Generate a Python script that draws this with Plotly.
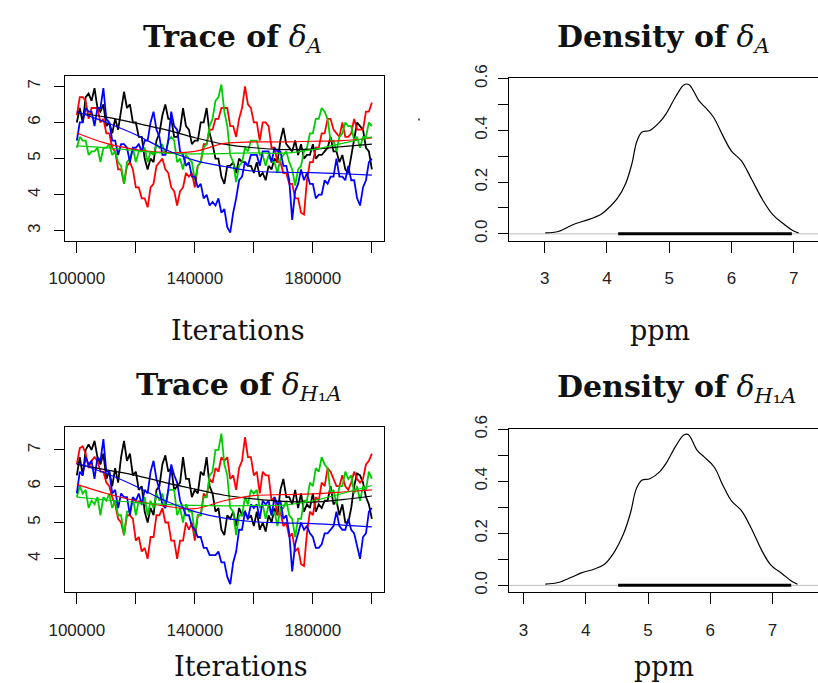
import plotly.graph_objects as go

# ---------------- data ----------------
iter_start = 100000
iter_step = 1000

# Trace of delta_A (top-left), one value per 1000 iterations
trA_black = [6.0, 6.4, 6.0, 6.7, 6.8, 6.6, 6.95, 6.4, 6.3, 6.5,
             5.9, 6.0, 5.7, 6.1, 5.8, 6.4, 6.85, 6.4, 6.5, 6.0,
             6.0, 5.6, 5.6, 5.0, 4.7, 5.0, 4.9, 5.5, 5.7, 6.2,
             6.5, 6.1, 6.1, 5.6, 5.6, 5.8, 6.4, 5.9, 5.8, 5.4,
             5.5, 5.5, 6.0, 6.0, 6.4, 5.7, 5.4, 5.0, 5.0, 4.5,
             4.3, 4.8, 4.8, 4.9, 4.6, 5.0, 4.9, 4.9, 4.8, 4.8,
             4.6, 4.9, 4.5, 4.6, 4.4, 4.8, 4.7, 5.0, 4.9, 5.5,
             5.85, 5.4, 5.3, 5.2, 5.5, 5.1, 5.4, 5.0, 5.1, 5.1,
             5.4, 5.0, 5.1, 5.1, 5.2, 5.3, 5.6, 5.2, 5.2, 4.9,
             5.1, 4.7, 4.6, 5.1, 5.6, 6.0, 5.9, 5.8, 5.3, 5.2,
             4.7]
trA_red = [6.2, 6.7, 6.7, 6.6, 6.1, 6.4, 6.4, 6.4, 6.0, 6.1,
           5.7, 5.7, 5.3, 5.2, 4.7, 4.7, 4.3, 4.8, 4.9, 4.7,
           4.2, 4.2, 3.9, 3.9, 3.65, 4.2, 4.3, 4.8, 4.9, 5.0,
           4.7, 4.6, 4.2, 4.1, 3.7, 4.1, 4.2, 4.6, 4.5, 4.6,
           4.2, 4.8, 4.9, 5.4, 5.4, 5.8, 5.8, 6.1, 6.1, 6.4,
           6.4, 6.4, 5.9, 5.9, 5.6, 6.1, 6.4, 7.0, 6.5, 6.4,
           6.0, 6.0, 5.5, 6.0, 6.0, 5.9, 5.3, 5.3, 4.9, 4.9,
           4.6, 4.6, 4.3, 4.3, 3.9, 3.9, 3.5, 3.45, 4.4, 4.9,
           4.9, 5.3, 5.3, 5.7, 5.7, 6.1, 6.1, 5.8, 5.7, 5.6,
           6.0, 5.6, 5.6, 5.7, 6.1, 5.8, 5.8, 5.8, 6.3, 6.3,
           6.55]
trA_green = [5.3, 5.6, 5.5, 5.5, 5.1, 5.2, 5.2, 5.3, 4.9, 5.3,
             5.3, 5.4, 5.1, 5.2, 4.9, 4.8, 4.3, 4.9, 5.0, 5.3,
             4.9, 5.2, 5.2, 5.3, 4.9, 5.2, 5.1, 5.4, 5.3, 5.4,
             5.1, 5.5, 5.6, 5.5, 4.9, 5.0, 4.7, 5.1, 5.0, 4.9,
             4.4, 4.8, 4.9, 5.3, 5.4, 5.9, 6.1, 6.6, 6.7, 7.05,
             6.3, 5.9, 5.1, 4.9, 4.35, 4.8, 4.9, 5.3, 5.2, 5.5,
             5.5, 5.5, 5.1, 5.1, 4.8, 5.1, 4.9, 4.9, 4.6, 5.0,
             5.1, 5.2, 4.9, 4.7, 4.25, 4.7, 4.8, 5.2, 5.3, 5.7,
             5.7, 6.1, 6.1, 6.4, 6.3, 6.1, 5.5, 5.5, 5.2, 5.6,
             5.7, 6.0, 5.9, 5.9, 5.5, 5.6, 5.3, 5.6, 5.6, 6.0,
             5.9]
trA_blue = [5.5, 6.0, 6.0, 6.4, 6.3, 6.3, 5.9, 6.4, 6.4, 6.95,
            6.1, 6.0, 5.5, 5.5, 5.1, 5.4, 5.4, 5.3, 4.9, 5.3,
            5.3, 5.4, 5.2, 5.5, 5.5, 6.0, 6.3, 5.8, 5.6, 5.1,
            5.1, 5.5, 6.3, 5.9, 5.8, 5.2, 5.1, 4.8, 4.9, 4.5,
            4.5, 4.2, 4.3, 3.9, 4.0, 3.7, 3.8, 3.7, 3.9, 3.5,
            3.6, 3.1, 2.95, 3.5, 3.9, 4.4, 4.5, 4.9, 4.8, 5.1,
            5.1, 5.1, 4.8, 5.2, 5.2, 5.2, 4.9, 5.3, 5.2, 5.2,
            4.8, 4.8, 4.4, 3.3, 4.1, 4.3, 4.7, 4.4, 4.6, 4.3,
            4.3, 3.9, 4.0, 4.0, 4.4, 4.3, 4.5, 4.5, 5.0, 4.5,
            4.5, 4.4, 4.8, 4.4, 4.4, 3.9, 3.7, 4.2, 4.4, 4.9,
            5.0]

# Trace of delta_H1A (bottom-left)
trH_black = [6.3, 6.8, 6.3, 7.0, 7.15, 7.0, 7.25, 6.8, 6.6, 6.9,
             6.2, 6.4, 6.0, 6.5, 6.1, 6.8, 7.25, 6.7, 6.9, 6.3,
             6.4, 5.9, 6.0, 5.3, 5.0, 5.4, 5.2, 5.9, 6.0, 6.6,
             6.85, 6.4, 6.5, 5.9, 6.0, 6.1, 6.8, 6.2, 6.2, 5.7,
             5.9, 5.8, 6.4, 6.3, 6.8, 6.0, 5.8, 5.3, 5.4, 4.8,
             4.65, 5.2, 5.1, 5.3, 4.9, 5.4, 5.2, 5.3, 5.1, 5.2,
             4.9, 5.3, 4.8, 5.0, 4.75, 5.2, 5.0, 5.4, 5.2, 5.9,
             6.2, 5.7, 5.7, 5.5, 5.9, 5.4, 5.8, 5.3, 5.5, 5.4,
             5.8, 5.3, 5.5, 5.4, 5.6, 5.6, 6.0, 5.5, 5.6, 5.2,
             5.5, 5.0, 5.0, 5.4, 6.0, 6.35, 6.3, 6.1, 5.7, 5.5,
             5.1]
trH_red = [6.6, 7.05, 7.1, 6.9, 6.5, 6.7, 6.8, 6.7, 6.4, 6.4,
           6.1, 6.0, 5.7, 5.5, 5.1, 5.0, 4.65, 5.2, 5.2, 5.1,
           4.5, 4.6, 4.2, 4.3, 4.0, 4.6, 4.6, 5.2, 5.2, 5.4,
           5.0, 5.0, 4.5, 4.5, 4.0, 4.5, 4.5, 5.0, 4.8, 5.0,
           4.5, 5.2, 5.2, 5.8, 5.7, 6.2, 6.1, 6.5, 6.4, 6.8,
           6.7, 6.8, 6.2, 6.3, 5.9, 6.5, 6.7, 7.35, 6.8, 6.8,
           6.3, 6.4, 5.8, 6.4, 6.3, 6.3, 5.6, 5.7, 5.2, 5.3,
           4.9, 5.0, 4.6, 4.7, 4.2, 4.3, 3.85, 3.8, 4.7, 5.3,
           5.2, 5.7, 5.6, 6.1, 6.0, 6.5, 6.4, 6.2, 6.0, 6.0,
           6.3, 6.0, 5.9, 6.1, 6.4, 6.2, 6.1, 6.2, 6.6, 6.7,
           6.9]
trH_green = [5.7, 6.0, 5.8, 5.9, 5.4, 5.6, 5.5, 5.7, 5.2, 5.7,
             5.6, 5.8, 5.4, 5.6, 5.2, 5.2, 4.65, 5.3, 5.3, 5.7,
             5.2, 5.6, 5.5, 5.7, 5.2, 5.6, 5.4, 5.8, 5.6, 5.8,
             5.4, 5.9, 5.9, 5.9, 5.2, 5.4, 5.0, 5.5, 5.3, 5.3,
             4.7, 5.2, 5.2, 5.7, 5.7, 6.3, 6.4, 7.0, 7.0, 7.45,
             6.6, 6.3, 5.4, 5.3, 4.65, 5.2, 5.2, 5.7, 5.5, 5.9,
             5.8, 5.9, 5.4, 5.5, 5.1, 5.5, 5.2, 5.3, 4.9, 5.4,
             5.4, 5.6, 5.2, 5.1, 4.6, 5.1, 5.1, 5.6, 5.6, 6.1,
             6.0, 6.5, 6.4, 6.8, 6.6, 6.5, 5.8, 5.9, 5.5, 6.0,
             6.0, 6.4, 6.2, 6.3, 5.8, 6.0, 5.6, 6.0, 5.9, 6.4,
             6.2]
trH_blue = [5.8, 6.4, 6.3, 6.8, 6.6, 6.7, 6.2, 6.8, 6.7, 7.3,
            6.4, 6.4, 5.8, 5.9, 5.4, 5.8, 5.7, 5.7, 5.2, 5.7,
            5.6, 5.8, 5.5, 5.9, 5.8, 6.4, 6.7, 6.2, 5.9, 5.5,
            5.4, 5.9, 6.6, 6.3, 6.1, 5.6, 5.4, 5.2, 5.2, 4.9,
            4.8, 4.6, 4.6, 4.3, 4.3, 4.1, 4.1, 4.1, 4.2, 3.9,
            3.9, 3.5, 3.3, 3.9, 4.2, 4.8, 4.8, 5.3, 5.1, 5.5,
            5.4, 5.5, 5.1, 5.6, 5.5, 5.6, 5.2, 5.7, 5.5, 5.6,
            5.1, 5.2, 4.7, 3.65, 4.4, 4.7, 5.0, 4.8, 4.9, 4.7,
            4.6, 4.3, 4.3, 4.4, 4.7, 4.7, 4.8, 4.9, 5.3, 4.9,
            4.8, 4.8, 5.1, 4.8, 4.7, 4.3, 4.0, 4.6, 4.7, 5.3,
            5.4]

# smoothed lines, one value every 10000 iterations
smooth_iter = [100000, 110000, 120000, 130000, 140000, 150000,
               160000, 170000, 180000, 190000, 200000]
smA_black = [6.27, 6.15, 5.98, 5.8, 5.58, 5.4, 5.3, 5.25, 5.26, 5.33, 5.4]
smA_red = [5.71, 5.42, 5.25, 5.17, 5.2, 5.42, 5.46, 5.46, 5.48, 5.5, 5.57]
smA_green = [5.35, 5.3, 5.22, 5.15, 5.13, 5.14, 5.16, 5.15, 5.25, 5.42, 5.6]
smA_blue = [6.3, 6.0, 5.66, 5.25, 4.95, 4.78, 4.65, 4.62, 4.61, 4.58, 4.54]
smH_black = [6.6, 6.45, 6.3, 6.1, 5.92, 5.75, 5.65, 5.58, 5.56, 5.63, 5.73]
smH_red = [6.05, 5.8, 5.6, 5.45, 5.38, 5.6, 5.74, 5.77, 5.79, 5.84, 5.9]
smH_green = [5.7, 5.62, 5.55, 5.5, 5.47, 5.46, 5.47, 5.48, 5.6, 5.8, 6.02]
smH_blue = [6.64, 6.35, 6.0, 5.6, 5.3, 5.12, 5.02, 4.99, 4.97, 4.93, 4.88]

# densities
densA_x = [3.01, 3.22, 3.48, 3.69, 3.9, 4.0, 4.17, 4.3, 4.4, 4.48, 4.56, 4.69,
           4.85, 4.95, 5.11, 5.24, 5.32, 5.48, 5.58, 5.71, 5.87, 6.0, 6.16,
           6.32, 6.5, 6.66, 6.84, 6.97, 7.08]
densA_y = [0.004, 0.009, 0.038, 0.054, 0.075, 0.094, 0.138, 0.194, 0.27, 0.357,
           0.393, 0.40, 0.433, 0.464, 0.533, 0.577, 0.577, 0.514, 0.489, 0.452,
           0.376, 0.32, 0.282, 0.213, 0.132, 0.075, 0.038, 0.015, 0.003]
hpdA = [4.18, 6.97]
densH_x = [3.35, 3.56, 3.77, 3.93, 4.14, 4.30, 4.45, 4.61, 4.72, 4.81, 4.90,
           5.03, 5.19, 5.29, 5.45, 5.58, 5.65, 5.79, 5.90, 6.06, 6.21, 6.34,
           6.50, 6.66, 6.82, 6.97, 7.16, 7.29, 7.40]
densH_y = [0.005, 0.011, 0.031, 0.048, 0.063, 0.081, 0.125, 0.20, 0.28, 0.37,
           0.404, 0.41, 0.4375, 0.469, 0.5375, 0.579, 0.579, 0.519, 0.494,
           0.456, 0.381, 0.325, 0.2875, 0.219, 0.1375, 0.079, 0.044, 0.019,
           0.004]
hpdH = [4.52, 7.30]

iter_labeled = [100000, 140000, 180000]
iter_text = ["100000", "140000", "180000"]
dens_ylabeled = [0.0, 0.2, 0.4, 0.6]
dens_ytext = ["0.0", "0.2", "0.4", "0.6"]

# ---------------- figure ----------------
W, H = 818, 683
chain_colors = ["#000000", "#FF0000", "#00CD00", "#0000FF"]
iters = [iter_start + iter_step * i for i in range(len(trA_black))]

fig = go.Figure()

def add_traces(series, smooths, xa, ya):
    for s, c in zip(series, chain_colors):
        fig.add_trace(go.Scatter(x=iters, y=s, mode="lines",
                                 line=dict(color=c, width=1.8),
                                 xaxis=xa, yaxis=ya, showlegend=False))
    for s, c in zip(smooths, chain_colors):
        fig.add_trace(go.Scatter(x=smooth_iter, y=s, mode="lines",
                                 line=dict(color=c, width=1.2, shape="spline"),
                                 xaxis=xa, yaxis=ya, showlegend=False))

def add_density(dx, dy, hpd, xa, ya, xr):
    fig.add_trace(go.Scatter(x=xr, y=[0, 0], mode="lines",
                             line=dict(color="#BEBEBE", width=1),
                             xaxis=xa, yaxis=ya, showlegend=False))
    fig.add_trace(go.Scatter(x=hpd, y=[0, 0], mode="lines",
                             line=dict(color="#000000", width=3),
                             xaxis=xa, yaxis=ya, showlegend=False))
    fig.add_trace(go.Scatter(x=dx, y=dy, mode="lines",
                             line=dict(color="#000000", width=1.2, shape="spline"),
                             xaxis=xa, yaxis=ya, showlegend=False))

add_traces([trA_black, trA_red, trA_green, trA_blue],
           [smA_black, smA_red, smA_green, smA_blue], "x", "y")
add_density(densA_x, densA_y, hpdA, "x2", "y2", [2.43, 7.39])
add_traces([trH_black, trH_red, trH_green, trH_blue],
           [smH_black, smH_red, smH_green, smH_blue], "x3", "y3")
add_density(densH_x, densH_y, hpdH, "x4", "y4", [2.77, 7.73])

tickfont = dict(family="Liberation Sans, Arial, sans-serif", size=17, color="#222222")

def xdom(p0, p1):
    return [p0 / W, min(p1 / W, 1.0)]

def ydom(top, bottom):
    return [1 - bottom / H, 1 - top / H]

common_x = dict(showline=True, linecolor="black", linewidth=1, ticks="outside",
                ticklen=11, tickcolor="black", showgrid=False, zeroline=False,
                tickfont=tickfont, ticklabelstandoff=11)
common_y = dict(showline=True, linecolor="black", linewidth=1, ticks="outside",
                ticklen=10, tickcolor="black", showgrid=False, zeroline=False,
                tickfont=tickfont, tickangle=-90)

iter_minor = dict(ticks="outside", ticklen=11, tickcolor="black",
                  tick0=100000, dtick=20000, showgrid=False)
dens_minor = dict(ticks="outside", ticklen=10, tickcolor="black",
                  tick0=0, dtick=0.1, showgrid=False)

fig.update_layout(
    width=W, height=H,
    margin=dict(l=0, r=0, t=0, b=0),
    paper_bgcolor="white", plot_bgcolor="white",
    xaxis=dict(common_x, domain=xdom(50, 375), range=[96000, 204000],
               tickvals=iter_labeled, ticktext=iter_text, minor=iter_minor,
               mirror=True, anchor="y"),
    yaxis=dict(common_y, domain=ydom(63, 232), range=[2.73, 7.3],
               tickvals=[3, 4, 5, 6, 7], mirror=True, anchor="x", ticklabelstandoff=7),
    xaxis2=dict(common_x, domain=xdom(503, 818), range=[2.43, 7.39],
                tickvals=[3, 4, 5, 6, 7], mirror=True, anchor="y2"),
    yaxis2=dict(common_y, domain=ydom(66, 232), range=[-0.026, 0.601],
                tickvals=dens_ylabeled, ticktext=dens_ytext, minor=dens_minor,
                mirror=False, anchor="x2", ticklabelstandoff=4),
    xaxis3=dict(common_x, domain=xdom(50, 375), range=[96000, 204000],
                tickvals=iter_labeled, ticktext=iter_text, minor=iter_minor,
                mirror=True, anchor="y3"),
    yaxis3=dict(common_y, domain=ydom(423, 592), range=[3.08, 7.63],
                tickvals=[4, 5, 6, 7], mirror=True, anchor="x3", ticklabelstandoff=7),
    xaxis4=dict(common_x, domain=xdom(503, 818), range=[2.77, 7.73],
                tickvals=[3, 4, 5, 6, 7], mirror=True, anchor="y4"),
    yaxis4=dict(common_y, domain=ydom(425, 592), range=[-0.026, 0.601],
                tickvals=dens_ylabeled, ticktext=dens_ytext, minor=dens_minor,
                mirror=False, anchor="x4", ticklabelstandoff=4),
)

title_font = dict(family="DejaVu Serif, serif", size=30, color="#111111")
label_font = dict(family="DejaVu Serif, serif", size=27, color="#111111")

def ann(text, xpx, ypx, font):
    fig.add_annotation(text=text, x=xpx / W, y=1 - ypx / H, xref="paper", yref="paper",
                       showarrow=False, xanchor="center", yanchor="middle", font=font)

ann("<b>Trace of</b> <i>δ</i><sub><i>A</i></sub>", 221, 25, title_font)
ann("<b>Density of</b> <i>δ</i><sub><i>A</i></sub>", 660, 25, title_font)
ann("<b>Trace of</b> <i>δ</i><sub><i>H</i>₁<i>A</i></sub>", 227, 381, title_font)
ann("<b>Density of</b> <i>δ</i><sub><i>H</i>₁<i>A</i></sub>", 674, 383, title_font)
ann("Iterations", 226, 324, label_font)
ann("ppm", 657, 324, label_font)
ann("Iterations", 229, 668, label_font)
ann("ppm", 661, 668, label_font)

# tiny stray dot seen in the original image
fig.add_shape(type="rect", xref="paper", yref="paper",
              x0=410 / W, x1=412 / W, y0=1 - 109 / H, y1=1 - 107 / H,
              fillcolor="#555555", line=dict(width=0))

fig.write_html("out.html", post_script="document.body.style.margin='0px';")
